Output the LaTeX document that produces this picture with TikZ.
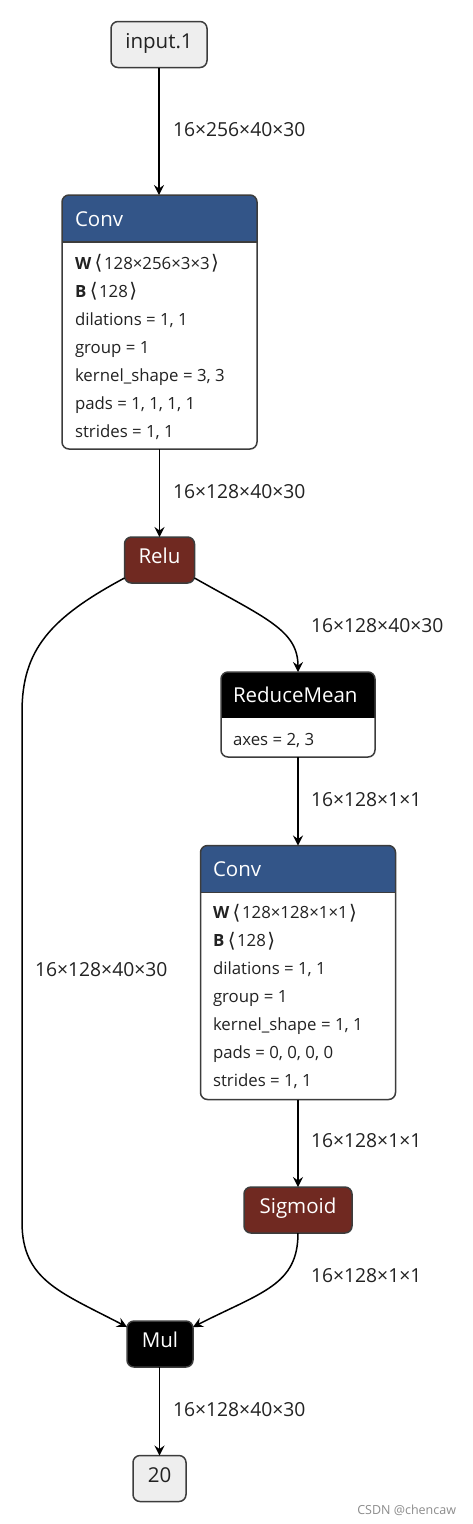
\documentclass[tikz,border=0pt]{standalone}
\usepackage{fontspec}
\setmainfont{Open Sans}
\newfontfamily\symf{DejaVu Sans}
\usetikzlibrary{arrows.meta}
\definecolor{convblue}{RGB}{51,85,136}
\definecolor{actred}{RGB}{112,41,33}
\definecolor{iobg}{RGB}{238,238,238}
\definecolor{bord}{RGB}{60,60,60}
\definecolor{txt}{RGB}{34,34,34}
\newcommand{\lb}{\hspace{3.5pt}{\symf\fontsize{20}{22}\selectfont\raisebox{-0.5pt}{\char"27E8}}\hspace{1.5pt}}
\newcommand{\rb}{\hspace{1.5pt}{\symf\fontsize{20}{22}\selectfont\raisebox{-0.5pt}{\char"27E9}}}
\tikzset{
  every node/.style={inner sep=0pt, outer sep=0pt},
  nodebox/.style={draw=bord, line width=1.5pt, rounded corners=7pt, minimum height=46pt,
    text height=0.72em, text depth=0pt, font=\fontsize{20.5}{23}\selectfont},
  iobox/.style={nodebox, fill=iobg, text=txt},
  actbox/.style={nodebox, fill=actred, text=white},
  blackbox/.style={nodebox, fill=black, text=white},
  shell/.style={fill=white, draw=none, anchor=north west},
  border/.style={draw=bord, line width=1.5pt, rounded corners=7pt},
  hdr/.style={anchor=base west, text=white, font=\fontsize{20.5}{23}\selectfont},
  attr/.style={anchor=base west, text=txt, font=\fontsize{16.8}{19}\selectfont},
  elabel/.style={anchor=west, text=txt, font=\fontsize{19.3}{22}\selectfont},
  edge/.style={line width=1.5pt, draw=black, -{Stealth[length=10pt,width=10pt,inset=3.5pt]}},
}
\begin{document}
\begin{tikzpicture}[x=1pt,y=-1pt]
\useasboundingbox[fill=white] (0,0) rectangle (472,1524);

% input
\node[iobox, minimum width=96pt] (in) at (159,44.5) {input.1};

% Conv 1
\node[shell, minimum width=195pt, minimum height=254pt] (c1) at (62,195) {};
\begin{scope}
\clip[rounded corners=7pt] (c1.north west) rectangle (c1.south east);
\fill[convblue] (c1.north west) rectangle ([yshift=-47pt]c1.north east);
\end{scope}
\draw[bord, line width=1.2pt] ([yshift=-47pt]c1.north west) -- ([yshift=-47pt]c1.north east);
\draw[border] (c1.north west) rectangle (c1.south east);
\node[hdr] (c1h) at (75,226.5) {Conv};
\node[attr] (c1a) at (75,269) {\textbf{W}\lb128×256×3×3\rb};
\node[attr] (c1b) at (75,297) {\textbf{B}\lb128\rb};
\node[attr] (c1c) at (75,325) {dilations = 1, 1};
\node[attr] (c1d) at (75,353) {group = 1};
\node[attr] (c1e) at (75,381) {kernel\_shape = 3, 3};
\node[attr] (c1f) at (75,409) {pads = 1, 1, 1, 1};
\node[attr] (c1g) at (75,437) {strides = 1, 1};

% Relu
\node[actbox, minimum width=70pt] (relu) at (159.5,560) {Relu};

% ReduceMean
\node[shell, minimum width=154pt, minimum height=85pt] (rm) at (221,672) {};
\begin{scope}
\clip[rounded corners=7pt] (rm.north west) rectangle (rm.south east);
\fill[black] (rm.north west) rectangle ([yshift=-46pt]rm.north east);
\end{scope}
\draw[border] (rm.north west) rectangle (rm.south east);
\node[hdr] (rmh) at (233,702.5) {ReduceMean};
\node[attr] (rma) at (233,745) {axes = 2, 3};

% Conv 2
\node[shell, minimum width=195pt, minimum height=254pt] (c2) at (200.5,845.5) {};
\begin{scope}
\clip[rounded corners=7pt] (c2.north west) rectangle (c2.south east);
\fill[convblue] (c2.north west) rectangle ([yshift=-47pt]c2.north east);
\end{scope}
\draw[bord, line width=1.2pt] ([yshift=-47pt]c2.north west) -- ([yshift=-47pt]c2.north east);
\draw[border] (c2.north west) rectangle (c2.south east);
\node[hdr] (c2h) at (213,876.5) {Conv};
\node[attr] (c2a) at (213,918.5) {\textbf{W}\lb128×128×1×1\rb};
\node[attr] (c2b) at (213,946.5) {\textbf{B}\lb128\rb};
\node[attr] (c2c) at (213,974.5) {dilations = 1, 1};
\node[attr] (c2d) at (213,1002.5) {group = 1};
\node[attr] (c2e) at (213,1030.5) {kernel\_shape = 1, 1};
\node[attr] (c2f) at (213,1058.5) {pads = 0, 0, 0, 0};
\node[attr] (c2g) at (213,1086.5) {strides = 1, 1};

% Sigmoid
\node[actbox, minimum width=108pt] (sig) at (298,1210) {Sigmoid};

% Mul
\node[blackbox, minimum width=66pt] (mul) at (160,1344) {Mul};

% output
\node[iobox, minimum width=53pt] (out) at (159.5,1478.5) {20};

% edges
\draw[edge] (in.south) -- (c1.north -| in.south);
\draw[edge] (c1.south -| relu.north) -- (relu.north);
\draw[edge] ([yshift=5pt]relu.south east) .. controls (265,618) and (298,630) .. (rm.north -| 298,0);
\draw[edge] (rm.south -| 298,0) -- (c2.north -| 298,0);
\draw[edge] (c2.south -| sig.north) -- (sig.north);
\draw[edge] (sig.south) .. controls (298,1285) and (262,1292) .. ([yshift=-6pt]mul.north east);
\draw[edge] ([yshift=5pt]relu.south west) .. controls (50,618) and (22,650) .. (22,712) -- (22,1222) .. controls (22,1280) and (60,1292) .. ([yshift=-6pt]mul.north west);
\draw[edge] (mul.south -| out.north) -- (out.north);

% edge labels
\node[elabel] (l1) at (173,130) {16×256×40×30};
\node[elabel] (l2) at (173,492) {16×128×40×30};
\node[elabel] (l3) at (311,626) {16×128×40×30};
\node[elabel] (l4) at (311,800) {16×128×1×1};
\node[elabel] (l5) at (311,1141) {16×128×1×1};
\node[elabel] (l6) at (311,1276) {16×128×1×1};
\node[elabel] (l7) at (35,970) {16×128×40×30};
\node[elabel] (l8) at (173,1410) {16×128×40×30};

% watermark
\node[anchor=east, text=black!45, font=\fontsize{12.5}{14}\selectfont] (wm) at (456,1510) {CSDN @chencaw};
\end{tikzpicture}
\end{document}
